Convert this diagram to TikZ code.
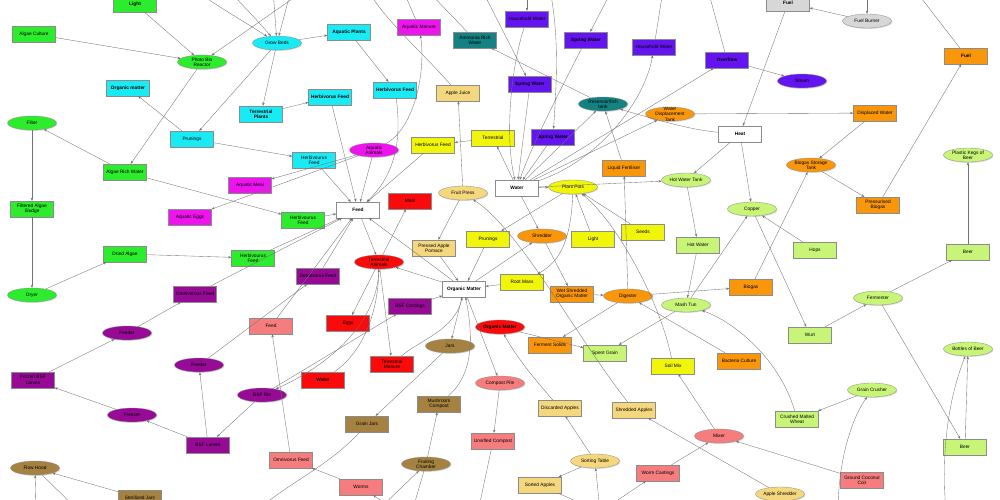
\documentclass[tikz,border=0pt]{standalone}
\usepackage{fontspec}
\setmainfont{Liberation Sans}
\usetikzlibrary{arrows.meta,shapes.geometric,shadows}
\definecolor{cGreen}{RGB}{45,235,45}
\definecolor{cCyan}{RGB}{25,235,245}
\definecolor{cMag}{RGB}{238,20,238}
\definecolor{cTeal}{RGB}{20,130,130}
\definecolor{cViol}{RGB}{100,20,240}
\definecolor{cGrey}{RGB}{215,215,215}
\definecolor{cOrange}{RGB}{250,150,10}
\definecolor{cGold}{RGB}{245,215,125}
\definecolor{cYellow}{RGB}{240,245,10}
\definecolor{cLime}{RGB}{200,245,120}
\definecolor{cRed}{RGB}{250,10,10}
\definecolor{cPurple}{RGB}{150,10,150}
\definecolor{cSalmon}{RGB}{245,125,125}
\definecolor{cBrown}{RGB}{165,130,65}
\newcommand\nodefont{\fontsize{4.8}{5.4}\selectfont}
\begin{document}
\begin{tikzpicture}[x=1pt,y=-1pt,
  base/.style={draw=black!45, line width=0.3pt, font=\nodefont, align=center, inner sep=0pt,
    drop shadow={shadow xshift=0.8pt,shadow yshift=-0.9pt,opacity=0.3}},
  box/.style={base, rectangle, minimum width=43pt, minimum height=16pt},
  oval/.style={base, ellipse, minimum width=49pt, minimum height=14pt, label={[lbl]center:{#1}}},
  lbl/.style={font=\nodefont, align=center, inner sep=0pt},
  bf/.style={font=\nodefont\bfseries},
  fl/.style={draw=black!55, line width=0.35pt, -{Stealth[length=3.2pt,width=2.4pt]}},
]
\useasboundingbox (0,0) rectangle (1000,500);

% ---------- algae / green ----------
\node[box,fill=cGreen,bf] (light) at (135,4) {Light};
\node[box,fill=cGreen] (algcult) at (34,34) {Algae Culture};
\node[oval={Photo Bio\\Reactor},fill=cGreen] (pbr) at (202,62) {};
\node[oval={Filter},fill=cGreen] (filter) at (32,123) {};
\node[box,fill=cGreen] (algrich) at (125,172) {Algae Rich Water};
\node[box,fill=cGreen] (sludge) at (32,209) {Filtered Algae\\Sludge};
\node[oval={Dryer},fill=cGreen] (dryer) at (32,295) {};
\node[box,fill=cGreen] (dried) at (125,254) {Dried Algae};
\node[box,fill=cGreen] (herbGa) at (253,258) {Herbivourus\\Feed};
\node[box,fill=cGreen] (herbGb) at (303,220) {Herbivourus\\Feed};

% ---------- grow beds / cyan ----------
\node[oval={Grow Beds},fill=cCyan] (grow) at (277,43) {};
\node[box,fill=cCyan,bf] (aqplants) at (349,32) {Aquatic Plants};
\node[box,fill=cCyan,bf] (orgm) at (128,88) {Organic matter};
\node[box,fill=cCyan] (prun) at (192,139) {Prunings};
\node[box,fill=cCyan,bf] (terrpl) at (261,114) {Terrestrial\\Plants};
\node[box,fill=cCyan,bf] (herbCa) at (330,97) {Herbivorus Feed};
\node[box,fill=cCyan,bf] (herbCb) at (395,90) {Herbivorus Feed};
\node[box,fill=cCyan] (herbCc) at (314,160) {Herbivourus\\Feed};

% ---------- aquatic animals / magenta, teal ----------
\node[box,fill=cMag] (aqman) at (419,27) {Aquatic Manure};
\node[oval={Aquatic\\Animals},fill=cMag] (aqanim) at (374,150) {};
\node[box,fill=cMag] (aqmeal) at (250,185) {Aquatic Meal};
\node[box,fill=cMag] (aqeggs) at (190,217) {Aquatic Eggs};
\node[box,fill=cTeal] (ammonia) at (475,40) {Ammonia Rich\\Water};
\node[oval={Reservoir/fish\\tank},fill=cTeal] (reservoir) at (603,104) {};

% ---------- water / violet ----------
\node[box,fill=cViol] (hha) at (527,19) {Household Water};
\node[box,fill=cViol,bf] (spa) at (586,40) {Spring Water};
\node[box,fill=cViol] (hhb) at (654,47) {Household Water};
\node[box,fill=cViol,bf] (overflow) at (727,60) {Overflow};
\node[box,fill=cViol,bf] (spb) at (530,84) {Spring Water};
\node[box,fill=cViol,bf] (spc) at (553,137) {Spring Water};
\node[oval={Steam},fill=cViol] (steam) at (802,81) {};

% ---------- heat and fuel ----------
\node[box,fill=cGrey,bf] (fuelg) at (788,3) {Fuel};
\node[oval={Fuel Burner},fill=cGrey] (burner) at (867,21) {};
\node[box,fill=white,bf] (heat) at (740,134) {Heat};
\node[box,fill=white,bf] (feed) at (358,210) {Feed};
\node[box,fill=white,bf] (water) at (517,188) {Water};
\node[box,fill=white,bf] (om) at (464,289) {Organic Matter};

% ---------- orange ----------
\node[oval={Water\\Displacement\\Tank},fill=cOrange] (wdt) at (670,114) {};
\node[box,fill=cOrange,bf] (fuelo) at (966,56) {Fuel};
\node[box,fill=cOrange] (displaced) at (875,113) {Displaced Water};
\node[oval={Biogas Storage\\Tank},fill=cOrange] (bst) at (811,165) {};
\node[box,fill=cOrange] (liqfert) at (624,168) {Liquid Fertiliser};
\node[box,fill=cOrange] (pbiogas) at (878,205) {Pressurised\\Biogas};
\node[oval={Shredder},fill=cOrange] (shredder) at (542,236) {};
\node[box,fill=cOrange] (wsom) at (572,294) {Wet Shredded\\Organic Matter};
\node[oval={Digester},fill=cOrange] (digester) at (628,296) {};
\node[box,fill=cOrange] (biogas) at (751,287) {Biogas};
\node[box,fill=cOrange] (fsolids) at (550,345) {Ferment Solids};
\node[box,fill=cOrange] (bacteria) at (739,361) {Bacteria Culture};

% ---------- apples / gold ----------
\node[box,fill=cGold] (applejuice) at (458,93) {Apple Juice};
\node[oval={Fruit Press},fill=cGold] (fruitpress) at (463,193) {};
\node[box,fill=cGold] (pomace) at (434,248) {Pressed Apple\\Pomace};
\node[box,fill=cGold] (discarded) at (560,408) {Discarded Apples};
\node[box,fill=cGold] (shredapp) at (634,410) {Shredded Apples};
\node[oval={Sorting Table},fill=cGold] (sorting) at (595,461) {};
\node[box,fill=cGold] (sorted) at (540,485) {Sorted Apples};
\node[oval={Apple Shredder},fill=cGold] (applesh) at (780,494) {};

% ---------- plants / yellow ----------
\node[box,fill=cYellow] (herbY) at (433,145) {Herbivorus Feed};
\node[box,fill=cYellow] (terr) at (493,138) {Terrestrial};
\node[oval={Plant Pots},fill=cYellow] (plantpots) at (573,187) {};
\node[box,fill=cYellow] (prunY) at (488,239) {Prunings};
\node[box,fill=cYellow] (lightY) at (593,239) {Light};
\node[box,fill=cYellow] (seeds) at (643,232) {Seeds};
\node[box,fill=cYellow] (rootmass) at (522,282) {Root Mass};
\node[box,fill=cYellow] (soilmix) at (673,366) {Soil Mix};

% ---------- brewing / lime ----------
\node[oval={Hot Water Tank},fill=cLime] (hwt) at (686,180) {};
\node[oval={Copper},fill=cLime] (copper) at (752,209) {};
\node[box,fill=cLime] (hotwater) at (698,245) {Hot Water};
\node[oval={Mash Tun},fill=cLime] (mashtun) at (686,305) {};
\node[box,fill=cLime] (hops) at (815,250) {Hops};
\node[box,fill=cLime] (beera) at (968,252) {Beer};
\node[oval={Plastic Kegs of\\Beer},fill=cLime] (kegs) at (968,155) {};
\node[oval={Fermenter},fill=cLime] (fermenter) at (878,298) {};
\node[box,fill=cLime] (wurt) at (810,335) {Wurt};
\node[box,fill=cLime] (spent) at (605,353) {Spent Grain};
\node[oval={Bottles of Beer},fill=cLime] (bottles) at (968,349) {};
\node[oval={Grain Crusher},fill=cLime] (crusher) at (872,390) {};
\node[box,fill=cLime] (cmw) at (797,419) {Crushed Malted\\Wheat};
\node[box,fill=cLime] (beerb) at (965,447) {Beer};

% ---------- animals / red ----------
\node[box,fill=cRed] (meal) at (410,201) {Meal};
\node[oval={Terrestrial\\Animals},fill=cRed] (terranim) at (379,262) {};
\node[box,fill=cRed] (eggs) at (348,323) {Eggs};
\node[oval={\textbf{Organic Matter}},fill=cRed] (omred) at (500,327) {};
\node[box,fill=cRed] (terrman) at (392,364) {Terrestrial\\Manure};
\node[box,fill=cRed,bf] (waterR) at (323,380) {Water};

% ---------- black soldier fly / purple ----------
\node[box,fill=cPurple] (omnifeed) at (195,294) {Omnivorous Feed};
\node[box,fill=cPurple] (detrit) at (318,276) {Detritivorus Feed};
\node[box,fill=cPurple] (bsfcast) at (410,306) {BSF Castings};
\node[oval={Feeder},fill=cPurple] (feedera) at (127,333) {};
\node[box,fill=cPurple] (frozen) at (33,380) {Frozen BSF\\Larves};
\node[oval={Feeder},fill=cPurple] (feederb) at (199,365) {};
\node[oval={Freezer},fill=cPurple] (freezer) at (132,415) {};
\node[box,fill=cPurple] (bsflarv) at (208,445) {BSF Larves};
\node[oval={BSF Bin},fill=cPurple] (bsfbin) at (262,395) {};

% ---------- worms and compost / salmon ----------
\node[box,fill=cSalmon] (feedS) at (271,326) {Feed};
\node[oval={Compost Pile},fill=cSalmon] (compost) at (500,383) {};
\node[box,fill=cSalmon] (unsifted) at (493,441) {Unsifted Compost};
\node[box,fill=cSalmon] (omnivorus) at (291,460) {Omnivorus Feed};
\node[box,fill=cSalmon] (worms) at (361,487) {Worms};
\node[oval={Mixer},fill=cSalmon] (mixer) at (719,436) {};
\node[box,fill=cSalmon] (castings) at (658,473) {Worm Castings};
\node[box,fill=cSalmon] (coir) at (862,480) {Ground Coconut\\Coir};

% ---------- mushrooms / brown ----------
\node[oval={Jars},fill=cBrown] (jars) at (450,346) {};
\node[box,fill=cBrown] (mushroom) at (439,404) {Mushroom\\Compost};
\node[box,fill=cBrown] (grainjars) at (367,424) {Grain Jars};
\node[oval={Fruiting\\Chamber},fill=cBrown] (fruiting) at (426,464) {};
\node[oval={Flow Hood},fill=cBrown] (flowhood) at (35,468) {};
\node[box,fill=cBrown] (sterile) at (140,498) {Sterilized Jars};

% ---------- loose ends beyond the frame ----------
\coordinate (tA) at (195,-10);
\coordinate (tB) at (228,-10);
\coordinate (tC) at (273,-10);
\coordinate (tD) at (291,-10);
\coordinate (tE) at (305,-10);
\coordinate (tF) at (403,-10);
\coordinate (tG) at (368,-10);
\coordinate (tH) at (427,-10);
\coordinate (tI) at (527,-10);
\coordinate (tJ) at (482,-10);
\coordinate (tK) at (612,-10);
\coordinate (tL) at (550,-10);
\coordinate (tM) at (663,-10);
\coordinate (tN) at (708,-10);
\coordinate (tO) at (867,-10);
\coordinate (tP) at (915,-10);
\coordinate (bA) at (36,512);
\coordinate (bB) at (80,512);
\coordinate (bC) at (255,512);
\coordinate (bD) at (376,512);
\coordinate (bE) at (398,512);
\coordinate (bF) at (412,512);
\coordinate (bG) at (478,512);
\coordinate (bH) at (600,512);
\coordinate (bI) at (838,512);
\coordinate (bJ) at (946,512);

% ---------- connectors ----------
\draw[fl] (light) -- (pbr);
\draw[fl] (algcult) -- (pbr);
\draw[fl] (tE) -- (pbr);
\draw[fl] (tA) .. controls (215,5) and (245,22) .. (grow);
\draw[fl] (tB) .. controls (240,2) and (255,18) .. (grow);
\draw[fl] (tC) -- (grow);
\draw[fl] (tD) -- (grow);
\draw[fl] (grow) -- (aqplants);
\draw[fl] (grow) -- (terrpl);
\draw[fl] (grow) -- (prun);
\draw[fl] (aqplants) -- (herbCb);
\draw[fl] (terrpl) -- (herbCa);
\draw[fl] (herbCa) -- (feed);
\draw[fl] (herbCb) .. controls (402,140) and (395,175) .. (feed);
\draw[fl] (prun) -- (orgm);
\draw[fl] (prun) -- (herbCc);
\draw[fl] (herbCc) -- (feed);
\draw[fl] (pbr) -- (algrich);
\draw[fl] (algrich) -- (filter);
\draw[fl] (filter) -- (sludge);
\draw[fl] (sludge) -- (dryer);
\draw[fl] (dryer) -- (dried);
\draw[fl] (dried) -- (herbGa);
\draw[fl] (algrich) -- (herbGb);
\draw[fl] (herbGa) -- (feed);
\draw[fl] (herbGb) -- (feed);
\draw[fl] (omnifeed) -- (feed);
\draw[fl] (detrit) -- (feed);
\draw[fl] (feedS) -- (feed);
\draw[fl] (aqanim) -- (feed);
\draw[fl] (aqanim) -- (aqmeal);
\draw[fl] (aqanim) -- (aqeggs);
\draw[fl] (aqanim) .. controls (415,128) and (426,70) .. (aqman);
\draw[fl] (aqman) -- (tF);
\draw[fl] (herbY) -- (feed);
\draw[fl] (terr) -- (herbY);
\draw[fl] (water) -- (terr);
\draw[fl] (fruitpress) -- (applejuice);
\draw[fl] (applejuice) .. controls (420,50) and (385,20) .. (tG);
\draw[fl] (reservoir) -- (ammonia);
\draw[fl] (ammonia) -- (tH);
\draw[fl] (tI) -- (hha);
\draw[fl] (hha) .. controls (510,70) and (505,140) .. (water);
\draw[fl] (tJ) .. controls (495,15) and (510,45) .. (spb);
\draw[fl] (spb) -- (water);
\draw[fl] (tK) -- (spa);
\draw[fl] (spa) .. controls (555,100) and (530,150) .. (water);
\draw[fl] (tL) .. controls (560,40) and (556,90) .. (spc);
\draw[fl] (spc) -- (water);
\draw[fl] (hhb) -- (tM);
\draw[fl] (water) .. controls (600,160) and (645,100) .. (hhb);
\draw[fl] (overflow) -- (tN);
\draw[fl] (water) -- (overflow);
\draw[fl] (overflow) -- (steam);
\draw[fl] (water) -- (reservoir);
\draw[fl] (water) -- (wdt);
\draw[fl] (heat) .. controls (690,130) and (650,118) .. (reservoir);
\draw[fl] (wdt) -- (displaced);
\draw[fl] (fuelg) -- (heat);
\draw[fl] (burner) -- (fuelg);
\draw[fl] (tO) -- (burner);
\draw[fl] (fuelo) -- (tP);
\draw[fl] (pbiogas) -- (fuelo);
\draw[fl] (displaced) -- (bst);
\draw[fl] (bst) -- (pbiogas);
\draw[fl] (biogas) -- (bst);
\draw[fl] (heat) -- (hwt);
\draw[fl] (heat) -- (copper);
\draw[fl] (water) -- (hwt);
\draw[fl] (hwt) -- (hotwater);
\draw[fl] (hotwater) -- (mashtun);
\draw[fl] (mashtun) -- (copper);
\draw[fl] (hops) -- (copper);
\draw[fl] (copper) -- (wurt);
\draw[fl] (wurt) -- (fermenter);
\draw[fl] (fermenter) -- (beera);
\draw[fl] (beera) -- (kegs);
\draw[fl] (fermenter) -- (beerb);
\draw[fl] (beerb) -- (bottles);
\draw[fl] (bJ) .. controls (940,440) and (952,390) .. (bottles);
\draw[fl] (water) -- (plantpots);
\draw[fl] (water) -- (shredder);
\draw[fl] (lightY) -- (plantpots);
\draw[fl] (seeds) -- (plantpots);
\draw[fl] (soilmix) .. controls (660,300) and (615,220) .. (plantpots);
\draw[fl] (plantpots) .. controls (571,240) and (560,262) .. (rootmass);
\draw[fl] (plantpots) -- (prunY);
\draw[fl] (om) -- (shredder);
\draw[fl] (shredder) -- (wsom);
\draw[fl] (wsom) -- (digester);
\draw[fl] (digester) -- (biogas);
\draw[fl] (digester) -- (liqfert);
\draw[fl] (liqfert) -- (reservoir);
\draw[fl] (bacteria) -- (digester);
\draw[fl] (digester) -- (fsolids);
\draw[fl] (mashtun) -- (spent);
\draw[fl] (cmw) .. controls (780,360) and (735,322) .. (mashtun);
\draw[fl] (crusher) -- (cmw);
\draw[fl] (bI) .. controls (838,460) and (852,418) .. (crusher);
\draw[fl] (coir) -- (mixer);
\draw[fl] (mixer) -- (soilmix);
\draw[fl] (castings) -- (mixer);
\draw[fl] (bH) -- (castings);
\draw[fl] (sorting) -- (discarded);
\draw[fl] (sorting) -- (sorted);
\draw[fl] (bH) -- (sorting);
\draw[fl] (sorted) -- (bH);
\draw[fl] (applesh) -- (shredapp);
\draw[fl] (shredapp) .. controls (575,335) and (520,230) .. (fruitpress);
\draw[fl] (fruitpress) -- (pomace);
\draw[fl] (pomace) -- (om);
\draw[fl] (prunY) -- (om);
\draw[fl] (rootmass) -- (om);
\draw[fl] (bsfcast) -- (om);
\draw[fl] (om) -- (terranim);
\draw[fl] (om) -- (feed);
\draw[fl] (feed) -- (terranim);
\draw[fl] (terranim) -- (meal);
\draw[fl] (terranim) -- (eggs);
\draw[fl] (terranim) -- (terrman);
\draw[fl] (waterR) .. controls (365,350) and (378,310) .. (terranim);
\draw[fl] (terranim) .. controls (378,322) and (330,365) .. (bsfbin);
\draw[fl] (bsfbin) -- (bsfcast);
\draw[fl] (bsfbin) -- (bsflarv);
\draw[fl] (bsflarv) -- (feederb);
\draw[fl] (bsflarv) -- (freezer);
\draw[fl] (freezer) -- (frozen);
\draw[fl] (frozen) -- (feedera);
\draw[fl] (feedera) -- (omnifeed);
\draw[fl] (feederb) -- (detrit);
\draw[fl] (sterile) -- (flowhood);
\draw[fl] (bA) -- (flowhood);
\draw[fl] (flowhood) -- (bB);
\draw[fl] (omnivorus) -- (feedS);
\draw[fl] (worms) -- (omnivorus);
\draw[fl] (grainjars) .. controls (330,465) and (290,482) .. (bC);
\draw[fl] (jars) -- (grainjars);
\draw[fl] (om) -- (jars);
\draw[fl] (terrman) .. controls (420,340) and (455,330) .. (om);
\draw[fl] (fruiting) -- (mushroom);
\draw[fl] (mushroom) .. controls (476,372) and (472,330) .. (om);
\draw[fl] (om) -- (compost);
\draw[fl] (compost) -- (unsifted);
\draw[fl] (unsifted) -- (bG);
\draw[fl] (bD) -- (fruiting);
\draw[fl] (bE) -- (worms);
\draw[fl] (fruiting) -- (bF);
\draw[fl] (discarded) .. controls (535,380) and (515,355) .. (omred);
\draw[fl] (omred) -- (spent);
\end{tikzpicture}
\end{document}
